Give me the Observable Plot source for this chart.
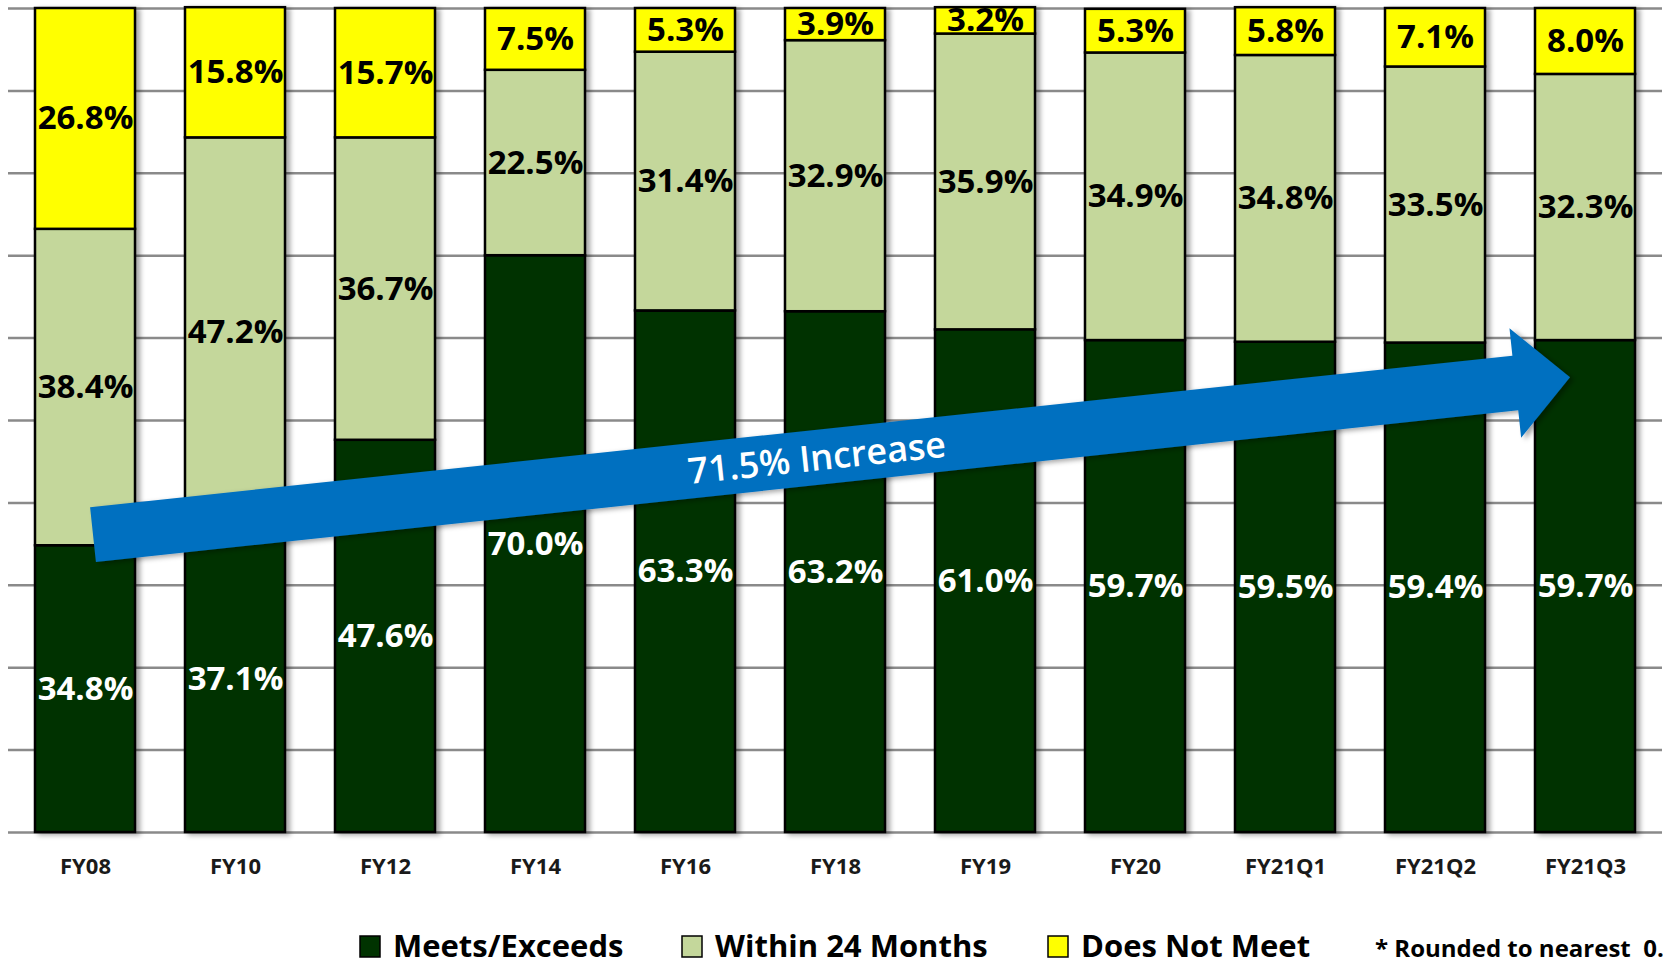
<!DOCTYPE html>
<html>
<head>
<meta charset="utf-8">
<script src="https://cdn.jsdelivr.net/npm/d3@7"></script>
<script src="https://cdn.jsdelivr.net/npm/@observablehq/plot@0.6"></script>
<style>
  html, body { margin: 0; padding: 0; background: #fff; overflow: hidden; }
  #wrap { position: relative; width: 1663px; height: 965px; font-family: "Open Sans", sans-serif; }
  #wrap svg { display: block; }
</style>
</head>
<body>
<div id="wrap"></div>
<script>
// ---- data ----
const categories = ["FY08", "FY10", "FY12", "FY14", "FY16", "FY18", "FY19", "FY20", "FY21Q1", "FY21Q2", "FY21Q3"];
const series = ["Meets/Exceeds", "Within 24 Months", "Does Not Meet"];
const meetsExceeds   = [34.8, 37.1, 47.6, 70.0, 63.3, 63.2, 61.0, 59.7, 59.5, 59.4, 59.7];
const within24Months = [38.4, 47.2, 36.7, 22.5, 31.4, 32.9, 35.9, 34.9, 34.8, 33.5, 32.3];
const doesNotMeet    = [26.8, 15.8, 15.7, 7.5, 5.3, 3.9, 3.2, 5.3, 5.8, 7.1, 8.0];
const seriesColors = ["#003300", "#C4D79B", "#FFFF00"];
const yTicks = [0, 10, 20, 30, 40, 50, 60, 70, 80, 90, 100];
const arrowLabel = "71.5% Increase";
const arrowFrom = { x: "FY08", y: 36.1 };
const arrowTo = { x: "FY21Q3", y: 55.2 };
const footnote = "* Rounded to nearest  0.1%";

// ---- table ----
const seriesValues = [meetsExceeds, within24Months, doesNotMeet];
const table = categories.flatMap((c, i) =>
  series.map((s, j) => ({ category: c, series: s, value: seriesValues[j][i] }))
);
const fmt = v => v.toFixed(1) + "%";

const W = 1663;
const chart = Plot.plot({
  width: W,
  height: 900,
  marginTop: 8,
  marginBottom: 68,
  marginLeft: 8,
  marginRight: 1,
  style: { fontFamily: "'Open Sans', sans-serif", background: "#fff", overflow: "visible" },
  x: { domain: categories, paddingInner: 0.333, paddingOuter: 0.1667, label: null, tickSize: 0, tickPadding: 26 },
  y: { domain: [0, 100], axis: null },
  color: { domain: series, range: seriesColors },
  marks: [
    Plot.ruleY(yTicks, { stroke: "#8a8a8a", strokeWidth: 2.5 }),
    Plot.barY(table, { x: "category", y: "value", fill: "series", z: "series", stroke: "#000", strokeWidth: 2.5 }),
    Plot.text(table, Plot.stackY({
      x: "category", y: "value", z: "series",
      text: d => d.series === series[0] ? fmt(d.value) : null,
      fill: "#ffffff", fontSize: 33, fontWeight: 700
    })),
    Plot.text(table, Plot.stackY({
      x: "category", y: "value", z: "series",
      text: d => d.series !== series[0] ? fmt(d.value) : null,
      fill: "#000000", fontSize: 33, fontWeight: 700
    })),
    Plot.axisX({ tickSize: 0, tickPadding: 26, fontSize: 22, fontWeight: 700, fill: "#1a1a1a", label: null })
  ]
});

document.getElementById("wrap").appendChild(chart);

// ---- shadows ----
const svg = d3.select(chart);
const defs = svg.insert("defs", ":first-child");
const f = defs.append("filter").attr("id", "shadow").attr("x", "-10%").attr("y", "-10%").attr("width", "130%").attr("height", "130%");
f.append("feDropShadow").attr("dx", 4).attr("dy", 2).attr("stdDeviation", 2.5)
  .attr("flood-color", "#000").attr("flood-opacity", 0.35);
svg.selectAll("g[aria-label='bar']").attr("filter", "url(#shadow)");

// ---- arrow annotation ----
const xs = chart.scale("x"), ys = chart.scale("y");
const bw = xs.bandwidth;
const p0 = [xs.apply(arrowFrom.x) + bw * 0.58, ys.apply(arrowFrom.y)];
const p1 = [xs.apply(arrowTo.x) + bw * 0.35, ys.apply(arrowTo.y)];
const dx = p1[0] - p0[0], dy = p1[1] - p0[1];
const L = Math.hypot(dx, dy);
const ux = dx / L, uy = dy / L, vx = -uy, vy = ux;
const h = 27.5, H = 55, hl = 55;
const pt = (u, v) => [p0[0] + ux * u + vx * v, p0[1] + uy * u + vy * v];
const poly = [pt(0, -h), pt(L - hl, -h), pt(L - hl, -H), pt(L, 0), pt(L - hl, H), pt(L - hl, h), pt(0, h)];
const ag = svg.append("g").attr("aria-label", "arrow");
ag.append("path")
  .attr("d", "M" + poly.map(p => p.join(",")).join("L") + "Z")
  .attr("fill", "#0070C0")
  .attr("filter", "url(#shadow)");
const lp = pt(L * 0.49, 0);
const ang = Math.atan2(dy, dx) * 180 / Math.PI;
ag.append("text")
  .attr("transform", `translate(${lp[0]},${lp[1]}) rotate(${ang})`)
  .attr("text-anchor", "middle")
  .attr("dy", "0.36em")
  .attr("fill", "#fff")
  .attr("font-family", "'Open Sans', sans-serif")
  .attr("font-weight", 600)
  .attr("font-size", 36)
  .text(arrowLabel);

// ---- legend (below the chart) ----
const leg = d3.select("#wrap").append("svg")
  .attr("width", W).attr("height", 65)
  .style("overflow", "visible")
  .style("font-family", "'Open Sans', sans-serif");
const legX = [360, 682, 1048];
series.forEach((s, i) => {
  leg.append("rect").attr("x", legX[i]).attr("y", 36).attr("width", 20).attr("height", 21)
    .attr("fill", seriesColors[i]).attr("stroke", "#000").attr("stroke-width", 1.5);
  leg.append("text").attr("x", legX[i] + 33).attr("y", 57)
    .attr("font-size", 31).attr("font-weight", 700).attr("fill", "#000").text(s);
});
leg.append("text").attr("x", 1375).attr("y", 57)
  .attr("font-size", 24).attr("font-weight", 700).attr("fill", "#000")
  .style("white-space", "pre").text(footnote);
</script>
</body>
</html>
